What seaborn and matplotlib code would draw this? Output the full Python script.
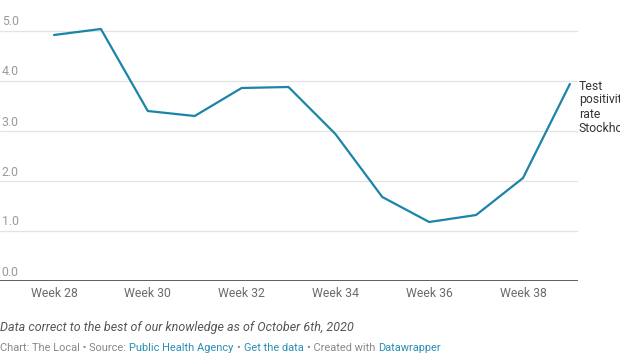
import numpy as np
import pandas as pd
import matplotlib.pyplot as plt
import matplotlib.transforms as mtransforms
import seaborn as sns

# weekly test positivity rate, Stockholm (%)
weeks = [28, 29, 30, 31, 32, 33, 34, 35, 36, 37, 38, 39]
positivity = [4.92, 5.04, 3.40, 3.30, 3.86, 3.88, 2.94, 1.68, 1.18, 1.32, 2.06, 3.94]
week_ticks = [28, 30, 32, 34, 36, 38]
week_labels = ["Week 28", "Week 30", "Week 32", "Week 34", "Week 36", "Week 38"]
y_ticks = [0, 1, 2, 3, 4, 5]
y_labels = ["0.0", "1.0", "2.0", "3.0", "4.0", "5.0"]

df = pd.DataFrame({"week": weeks, "rate": positivity})

sns.set_style("white")
plt.rcParams["font.family"] = ["Roboto", "DejaVu Sans"]

line_col = "#1a84a9"
fig = plt.figure(figsize=(6.2, 3.55), dpi=100)
ax = fig.add_axes([0, 1 - 281 / 355, 578 / 620, 261 / 355])

sns.lineplot(data=df, x="week", y="rate", ax=ax, color=line_col, linewidth=1.6)

ax.set_xlim(28 - 54 / 46.9, 28 + 524 / 46.9)
ax.set_ylim(0, 5.22)

# gridlines
for v in y_ticks[1:]:
    ax.axhline(v, color="#e3e3e3", linewidth=0.9, zorder=0)
ax.axhline(0, color="#333333", linewidth=1.1, zorder=3)

# y labels sit just above the gridlines at the left
trans = mtransforms.blended_transform_factory(ax.transAxes, ax.transData)
for v, lab in zip(y_ticks, y_labels):
    ax.text(0.003, v + 0.11, lab, transform=trans, fontsize=8.8, color="#9a9a9a",
            ha="left", va="baseline")

ax.set_yticks([])
ax.set_xticks(week_ticks)
ax.set_xticklabels(week_labels, fontsize=8.8, color="#6b6b6b")
ax.tick_params(axis="x", length=0, pad=4)
ax.set_xlabel("")
ax.set_ylabel("")
for s in ax.spines.values():
    s.set_visible(False)

# line label at the end
ax.text(39 + 9 / 46.9, 3.48, "Test\npositivity\nrate\nStockholm",
        fontsize=8.8, color="#333333", ha="left", va="center", linespacing=1.1,
        clip_on=False)

# footer
fig.text(0.0, 1 - 328 / 355, "Data correct to the best of our knowledge as of October 6th, 2020",
         fontsize=9.0, style="italic", color="#555555", va="center", ha="left")

parts = [("Chart: The Local \u2022 Source:", "#888888"),
         ("Public Health Agency", "#2a8fb3"),
         ("\u2022", "#888888"),
         ("Get the data", "#2a8fb3"),
         ("\u2022 Created with", "#888888"),
         ("Datawrapper", "#2a8fb3")]
footer = [fig.text(0, 0, txt, fontsize=7.9, color=col, va="baseline", ha="left")
          for txt, col in parts]

# place footer pieces one after the other, one space apart
fig.canvas.draw()
renderer = fig.canvas.get_renderer()
gap = 3.2 / fig.bbox.width
x = 0.0
for t in footer:
    t.set_position((x, 1 - 351 / 355))
    bb = t.get_window_extent(renderer=renderer)
    x += bb.width / fig.bbox.width + gap

fig.savefig("out.png", dpi=100)
